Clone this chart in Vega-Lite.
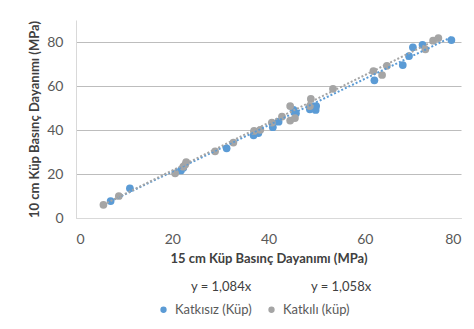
{
  "$schema": "https://vega.github.io/schema/vega-lite/v6.json",
  "width": 385,
  "height": 198,
  "autosize": {"type": "none"},
  "padding": {"left": 76, "top": 20, "right": 13, "bottom": 111},
  "background": "white",
  "config": {
    "font": "Lato",
    "view": {"stroke": null},
    "legend": {"labelFont": "Lato", "padding": 0}
  },
  "datasets": {
    "points": [
      {"x": 7.2, "y": 7.7, "series": "Katkısız (Küp)"},
      {"x": 11.2, "y": 13.5, "series": "Katkısız (Küp)"},
      {"x": 21.8, "y": 21.6, "series": "Katkısız (Küp)"},
      {"x": 22.3, "y": 22.8, "series": "Katkısız (Küp)"},
      {"x": 31.3, "y": 31.7, "series": "Katkısız (Küp)"},
      {"x": 36.9, "y": 37.6, "series": "Katkısız (Küp)"},
      {"x": 37.9, "y": 38.6, "series": "Katkısız (Küp)"},
      {"x": 40.9, "y": 41.3, "series": "Katkısız (Küp)"},
      {"x": 42.1, "y": 43.8, "series": "Katkısız (Küp)"},
      {"x": 45.2, "y": 49.1, "series": "Katkısız (Küp)"},
      {"x": 45.7, "y": 47.6, "series": "Katkısız (Küp)"},
      {"x": 48.6, "y": 49.4, "series": "Katkısız (Küp)"},
      {"x": 49.9, "y": 50.9, "series": "Katkısız (Küp)"},
      {"x": 49.8, "y": 49.1, "series": "Katkısız (Küp)"},
      {"x": 49.4, "y": 50.0, "series": "Katkısız (Küp)"},
      {"x": 62.0, "y": 62.6, "series": "Katkısız (Küp)"},
      {"x": 67.9, "y": 69.5, "series": "Katkısız (Küp)"},
      {"x": 69.2, "y": 73.6, "series": "Katkısız (Küp)"},
      {"x": 70.0, "y": 77.6, "series": "Katkısız (Küp)"},
      {"x": 72.0, "y": 78.7, "series": "Katkısız (Küp)"},
      {"x": 78.0, "y": 80.9, "series": "Katkısız (Küp)"},
      {"x": 5.7, "y": 6.0, "series": "Katkılı (küp)"},
      {"x": 8.9, "y": 10.0, "series": "Katkılı (küp)"},
      {"x": 20.6, "y": 20.3, "series": "Katkılı (küp)"},
      {"x": 22.3, "y": 23.3, "series": "Katkılı (küp)"},
      {"x": 22.7, "y": 24.3, "series": "Katkılı (küp)"},
      {"x": 22.9, "y": 25.4, "series": "Katkılı (küp)"},
      {"x": 28.9, "y": 30.3, "series": "Katkılı (küp)"},
      {"x": 32.7, "y": 34.3, "series": "Katkılı (küp)"},
      {"x": 37.0, "y": 39.6, "series": "Katkılı (küp)"},
      {"x": 38.3, "y": 40.1, "series": "Katkılı (küp)"},
      {"x": 40.7, "y": 43.4, "series": "Katkılı (küp)"},
      {"x": 42.8, "y": 46.1, "series": "Katkılı (küp)"},
      {"x": 44.5, "y": 50.9, "series": "Katkılı (küp)"},
      {"x": 44.5, "y": 44.3, "series": "Katkılı (küp)"},
      {"x": 45.5, "y": 45.4, "series": "Katkılı (küp)"},
      {"x": 48.6, "y": 50.9, "series": "Katkılı (küp)"},
      {"x": 48.8, "y": 54.1, "series": "Katkılı (küp)"},
      {"x": 53.4, "y": 58.7, "series": "Katkılı (küp)"},
      {"x": 61.8, "y": 66.8, "series": "Katkılı (küp)"},
      {"x": 63.6, "y": 65.0, "series": "Katkılı (küp)"},
      {"x": 64.6, "y": 69.2, "series": "Katkılı (küp)"},
      {"x": 72.6, "y": 76.7, "series": "Katkılı (küp)"},
      {"x": 74.2, "y": 80.6, "series": "Katkılı (küp)"},
      {"x": 75.3, "y": 81.8, "series": "Katkılı (küp)"}
    ],
    "trend": [
      {"x": 7.2, "y": 7.6, "eq": "y = 1,084x"},
      {"x": 78.0, "y": 82.2, "eq": "y = 1,084x"},
      {"x": 5.7, "y": 6.1, "eq": "y = 1,058x"},
      {"x": 75.3, "y": 81.5, "eq": "y = 1,058x"}
    ]
  },
  "layer": [
    {
      "data": {"name": "points"},
      "mark": {"type": "point", "filled": true, "shape": "circle", "size": 60, "opacity": 1},
      "encoding": {
        "x": {
          "field": "x", "type": "quantitative",
          "scale": {"domain": [0, 80], "nice": false},
          "axis": {
            "values": [0, 20, 40, 60, 80],
            "title": "15 cm Küp Basınç Dayanımı (MPa)",
            "grid": false, "ticks": false, "labelOverlap": false,
            "domainColor": "#D9D9D9",
            "labelFont": "Lato", "titleFont": "Lato",
            "labelFontSize": 14, "labelColor": "#595959", "labelPadding": 14,
            "titleFontSize": 13, "titleFontWeight": "bold", "titleColor": "#404040", "titlePadding": 6
          }
        },
        "y": {
          "field": "y", "type": "quantitative",
          "scale": {"domain": [0, 90], "nice": false},
          "axis": {
            "values": [0, 10, 20, 30, 40, 50, 60, 70, 80, 90],
            "title": "10 cm Küp Basınç Dayanımı (MPa)",
            "grid": true, "gridColor": "#BDBDBD", "gridWidth": 1, "gridOpacity": 1,
            "ticks": false, "labelOverlap": false,
            "domainColor": "#D9D9D9",
            "labelFont": "Lato", "titleFont": "Lato",
            "labelFontSize": 14, "labelColor": "#595959", "labelPadding": 13,
            "titleFontSize": 13, "titleFontWeight": "bold", "titleColor": "#404040", "titlePadding": 5
          }
        },
        "color": {
          "field": "series", "type": "nominal",
          "scale": {"domain": ["Katkısız (Küp)", "Katkılı (küp)"], "range": ["#5B9BD5", "#A5A5A5"]},
          "legend": {
            "title": null, "orient": "none", "direction": "horizontal",
            "legendX": 81, "legendY": 283,
            "symbolType": "circle", "symbolSize": 40, "symbolStrokeWidth": 0,
            "labelFontSize": 13, "labelColor": "#595959", "labelOffset": 5,
            "columnPadding": 13
          }
        },
        "order": {"field": "series", "sort": "descending"}
      }
    },
    {
      "data": {"name": "trend"},
      "mark": {"type": "line", "strokeDash": [2, 2], "strokeWidth": 2},
      "encoding": {
        "x": {"field": "x", "type": "quantitative"},
        "y": {"field": "y", "type": "quantitative"},
        "stroke": {
          "field": "eq", "type": "nominal",
          "scale": {"domain": ["y = 1,084x", "y = 1,058x"], "range": ["#5B9BD5", "#A5A5A5"]},
          "legend": {
            "title": null, "orient": "none", "direction": "horizontal",
            "legendX": 102, "legendY": 260,
            "symbolOpacity": 0, "symbolSize": 1, "symbolStrokeWidth": 0,
            "labelFontSize": 13, "labelColor": "#404040", "labelOffset": 0,
            "columnPadding": 46
          }
        }
      }
    }
  ]
}
